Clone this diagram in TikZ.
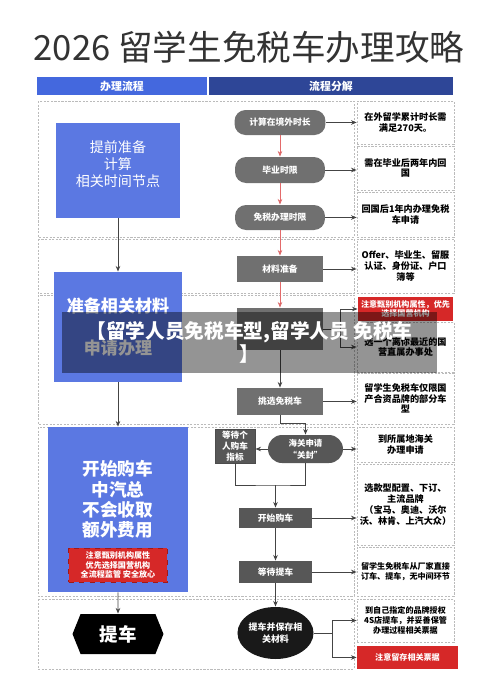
\documentclass[tikz,border=0pt]{standalone}
\usepackage{fontspec}
\setmainfont{Noto Sans CJK SC}
\usepackage{xcolor}
\usepackage{tikz}
\usetikzlibrary{arrows.meta,shapes.geometric,shapes.symbols}

\definecolor{titlegray}{HTML}{333333}
\definecolor{hdblue}{HTML}{4468DE}
\definecolor{hddark}{HTML}{2E4697}
\definecolor{boxblue}{HTML}{5B78E2}
\definecolor{pillgray}{HTML}{707070}
\definecolor{darkgray}{HTML}{575757}
\definecolor{notered}{HTML}{D62828}
\definecolor{darkred}{HTML}{A01818}
\definecolor{arrowred}{HTML}{E36A6A}
\definecolor{linegray}{HTML}{444444}
\definecolor{dashgray}{HTML}{BBBBBB}

\begin{document}
\begin{tikzpicture}[x=0.02cm,y=-0.02cm,>={Stealth[length=3.2pt,width=2.6pt]},
    line width=0.5pt,
    every node/.style={align=center,inner sep=0pt},
    head/.style={text=white,font=\fontsize{6.2}{7}\selectfont\bfseries,minimum height=0.36cm},
    sect/.style={draw=dashgray,dash pattern=on 1.2pt off 0.8pt,line width=0.4pt},
    note/.style={sect,minimum width=1.94cm,text=black,font=\fontsize{5.2}{6.1}\selectfont\bfseries},
    smallnote/.style={note,font=\fontsize{4.6}{5.6}\selectfont\bfseries},
    rednote/.style={fill=notered,text=white,minimum width=1.9cm,font=\fontsize{4.6}{5.6}\selectfont\bfseries},
    bluebox/.style={fill=boxblue,text=white},
    pill/.style={fill=pillgray,text=white,rounded corners=0.22cm,font=\fontsize{5}{6}\selectfont\bfseries},
    greybox/.style={fill=pillgray,text=white,font=\fontsize{5}{6}\selectfont\bfseries},
    darkbox/.style={fill=darkgray,text=white,font=\fontsize{5}{6.5}\selectfont\bfseries},
    hexa/.style={signal,signal to=west and east,signal pointer angle=136,fill=black,text=white,
                 minimum width=1.82cm,minimum height=0.8cm,font=\fontsize{10.5}{12}\selectfont\bfseries},
    banner/.style={fill=black,fill opacity=0.42,text opacity=1,text=white,minimum width=7.5cm,
                   minimum height=1.22cm,font=\fontsize{11.2}{13}\selectfont\bfseries},
    flow/.style={->,draw=linegray},
    redflow/.style={->,draw=arrowred}]
    \useasboundingbox (0,0) rectangle (500,687);

    \node[font=\fontsize{19.7}{22}\selectfont,text=titlegray] (title) at (249,47) {2026 留学生免税车办理攻略};
    \node[head,fill=hdblue,minimum width=3.4cm] (hd1) at (122,86) {办理流程};
    \node[head,fill=hddark,minimum width=4.88cm] (hd2) at (331,86) {流程分解};

    \draw[sect] (38,101) rectangle (354,237);
    \draw[sect] (38,239) rectangle (354,293);
    \draw[sect] (38,295) rectangle (354,424);
    \draw[sect] (38,427) rectangle (354,596);
    \draw[sect] (38,599) rectangle (354,669);

    \node[note,minimum height=0.86cm] (r1) at (405.5,122.5) {在外留学累计时长需\\满足270天。};
    \node[note,minimum height=0.88cm] (r2) at (405.5,168) {需在毕业后两年内回\\国};
    \node[note,minimum height=0.9cm] (r3) at (405.5,214.5) {回国后1年内办理免税\\车申请};
    \node[note,minimum height=1.08cm] (r4) at (405.5,266) {Offer、毕业生、留服\\认证、身份证、户口\\簿等};
    \node[rednote,minimum height=0.48cm] (r5) at (405.5,309) {注意甄别机构属性，优先\\选择国营机构};
    \node[note,minimum height=1.0cm] (r6) at (405.5,347) {选一个离你最近的国\\营直属办事处};
    \node[note,minimum height=1.02cm] (r7) at (405.5,398.5) {留学生免税车仅限国\\产合资品牌的部分车\\型};
    \node[note,minimum height=0.7cm] (r8) at (405.5,444.5) {到所属地海关\\办理申请};
    \node[note,minimum height=1.62cm] (r9) at (405.5,504.5) {选款型配置、下订、\\主流品牌\\（宝马、奥迪、沃尔\\沃、林肯、上汽大众）};
    \node[smallnote,minimum height=0.98cm] (r10) at (405.5,571.5) {留学生免税车从厂家直接\\订车、提车，无中间环节};
    \node[smallnote,minimum height=0.86cm] (r11) at (405.5,620.5) {到自己指定的品牌授权\\4S店提车，并妥善保管\\办理过程相关票据};
    \node[rednote,minimum width=2.02cm,minimum height=0.46cm] (r12) at (407.5,657.5) {注意留存相关票据};

    \node[bluebox,minimum width=2.48cm,minimum height=1.9cm] (b1) at (118,170.5) {};
    \node[text=white,font=\fontsize{8}{9.6}\selectfont] (b1t) at (118,164) {提前准备\\计算\\相关时间节点};
    \node[bluebox,minimum width=2.56cm,minimum height=2.2cm,font=\fontsize{9.7}{12.2}\selectfont\bfseries] (b2) at (118,327) {准备相关材料\\[12.2pt]申请办理};
    \node[bluebox,minimum width=2.82cm,minimum height=3.3cm] (b3) at (118,509.5) {};
    \node[text=white,font=\fontsize{10}{11.5}\selectfont\bfseries] (b3t) at (118,499.5) {开始购车\\中汽总\\不会收取\\额外费用};
    \node[rednote,draw=darkred,dashed,minimum width=1.98cm,minimum height=0.68cm,font=\fontsize{4.6}{5.4}\selectfont\bfseries] (b3n) at (118,565) {注意甄别机构属性\\优先选择国营机构\\全流程监管 安全放心};
    \node[hexa] (pick) at (118,634) {提车};

    \node[pill,minimum width=1.82cm,minimum height=0.5cm] (p1) at (280,122.5) {计算在境外时长};
    \node[pill,minimum width=1.8cm,minimum height=0.52cm] (p2) at (280,170) {毕业时限};
    \node[pill,minimum width=1.8cm,minimum height=0.5cm] (p3) at (280,217.5) {免税办理时限};
    \node[greybox,minimum width=1.72cm,minimum height=0.52cm] (m1) at (280,269) {材料准备};
    \node[greybox,minimum width=1.72cm,minimum height=0.84cm] (m2) at (280,329) {};
    \node[greybox,minimum width=1.72cm,minimum height=0.54cm] (m3) at (280,401.5) {挑选免税车};
    \node[darkbox,draw=black!70,minimum width=0.8cm,minimum height=0.68cm,font=\fontsize{4.9}{6.2}\selectfont\bfseries] (w1) at (235,446) {等待个\\人购车\\指标};
    \node[darkbox,rounded corners=0.28cm,minimum width=1.5cm,minimum height=0.56cm,font=\fontsize{4.8}{6.8}\selectfont\bfseries] (c1) at (305.5,449) {海关申请\\“关封”};
    \node[darkbox,minimum width=1.46cm,minimum height=0.4cm] (m4) at (275.5,518) {开始购车};
    \node[darkbox,minimum width=1.46cm,minimum height=0.44cm] (m5) at (275.5,572) {等待提车};
    \node[ellipse,fill=black!90,text=white,minimum width=1.44cm,minimum height=1.04cm,font=\fontsize{5.1}{6.8}\selectfont\bfseries] (cir) at (275.5,633) {提车并保存相\\关材料};

    \draw[flow] (b1) -- (b2);
    \draw[flow] (b2) -- (b3);
    \draw[flow] (b3) -- (pick);

    \path[redflow] (p1) edge (p2)
                   (p2) edge (p3)
                   (p3) edge (m1)
                   (m1) edge (m2);

    \draw[flow] (p1) -- (r1);
    \draw[flow] (p2.east) -- (p2.east -| r2.west);
    \draw[flow] (p3.east) -- (p3.east -| r3.west);
    \draw[flow] (m1.east) -- (m1.east -| r4.west);
    \coordinate (j1) at (340,329);
    \draw[flow] (m2.east) -- (j1) |- (r5.west);
    \draw[flow] (j1) |- (r6.west);
    \draw[flow] (m2) -- (m3);
    \draw[flow] (m3.east) -- (m3.east -| r7.west);
    \draw[flow] (m3.south) -- ++(0,8) -| (c1.north);
    \draw[flow] (c1.west) -- (c1.west -| w1.east);
    \draw[flow] (c1.east) -- (c1.east -| r8.west);
    \coordinate (j2) at (275.5,485);
    \draw[draw=linegray] (w1.south) |- (j2) -| (c1.south);
    \draw[flow] (j2) -- (m4);
    \draw[flow] (m4.east) -- (m4.east -| r9.west);
    \draw[flow] (m4) -- (m5);
    \draw[flow] (m5.east) -- (m5.east -| r10.west);
    \draw[flow] (m5) -- (cir);
    \coordinate (j3) at (332,633);
    \draw[flow] (cir) -- (j3) |- (r11.west);
    \draw[flow] (j3) |- (r12.west);

    \node[banner] (ban) at (249.5,342.5) {【留学人员免税车型,留学人员 免税车\\】};
\end{tikzpicture}
\end{document}
